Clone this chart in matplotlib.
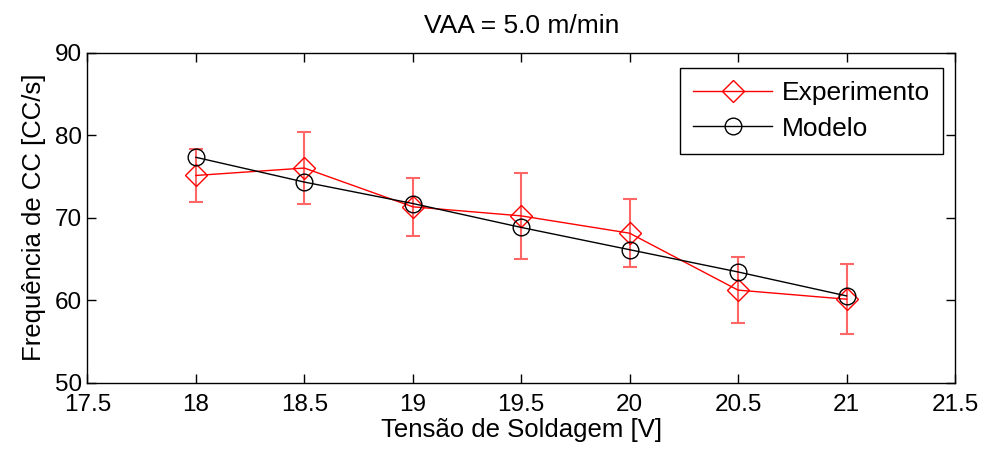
import matplotlib
matplotlib.use("Agg")
import matplotlib.pyplot as plt

tensao = [18, 18.5, 19, 19.5, 20, 20.5, 21]
experimento = [75.1, 76.0, 71.3, 70.2, 68.1, 61.2, 60.1]
erro = [3.2, 4.4, 3.5, 5.2, 4.1, 4.0, 4.25]
modelo = [77.3, 74.3, 71.7, 68.8, 66.1, 63.4, 60.5]
xticks = [17.5, 18, 18.5, 19, 19.5, 20, 20.5, 21, 21.5]
yticks = [50, 60, 70, 80, 90]

plt.rcParams['font.family'] = ['Liberation Sans', 'DejaVu Sans']
fig = plt.figure(figsize=(9.85, 4.57), dpi=100)
ax = fig.add_axes([0.0888, 0.163, 0.8807, 0.722])

ax.errorbar(tensao, experimento, yerr=erro, fmt='none', ecolor=(1, 0.4, 0.4),
            elinewidth=1.5, capsize=5, capthick=1.5, zorder=2)
ax.plot(tensao, experimento, color='red', lw=1, marker='D', ms=11,
        mfc='none', mec='red', mew=1, label='Experimento', zorder=3)
ax.plot(tensao, modelo, color='black', lw=1, marker='o', ms=12,
        mfc='none', mec='black', mew=1, label='Modelo', zorder=3)

ax.set_xlim(17.5, 21.5)
ax.set_ylim(50, 90)
ax.set_xticks(xticks)
ax.set_xticklabels([f'{v:g}' for v in xticks])
ax.set_yticks(yticks)
ax.tick_params(direction='in', top=True, right=True, labelsize=17.5, length=6.5, width=1)
ax.tick_params(axis='x', pad=8.5)
ax.tick_params(axis='y', pad=4)
for s in ax.spines.values():
    s.set_linewidth(1)
ax.set_xlabel('Tensão de Soldagem [V]', fontsize=18.5, labelpad=1)
ax.set_ylabel('Frequência de CC [CC/s]', fontsize=18.5, labelpad=6)
ax.set_title('VAA = 5.0 m/min', fontsize=19, pad=14)

leg = ax.legend(loc='upper right', fontsize=19, fancybox=False, edgecolor='black',
                framealpha=1, handlelength=3.0, handletextpad=0.35, borderpad=0.5,
                labelspacing=0.45, borderaxespad=0,
                bbox_to_anchor=(0.986, 0.9545))
leg.get_frame().set_linewidth(1)

fig.savefig('out.png', dpi=100)
